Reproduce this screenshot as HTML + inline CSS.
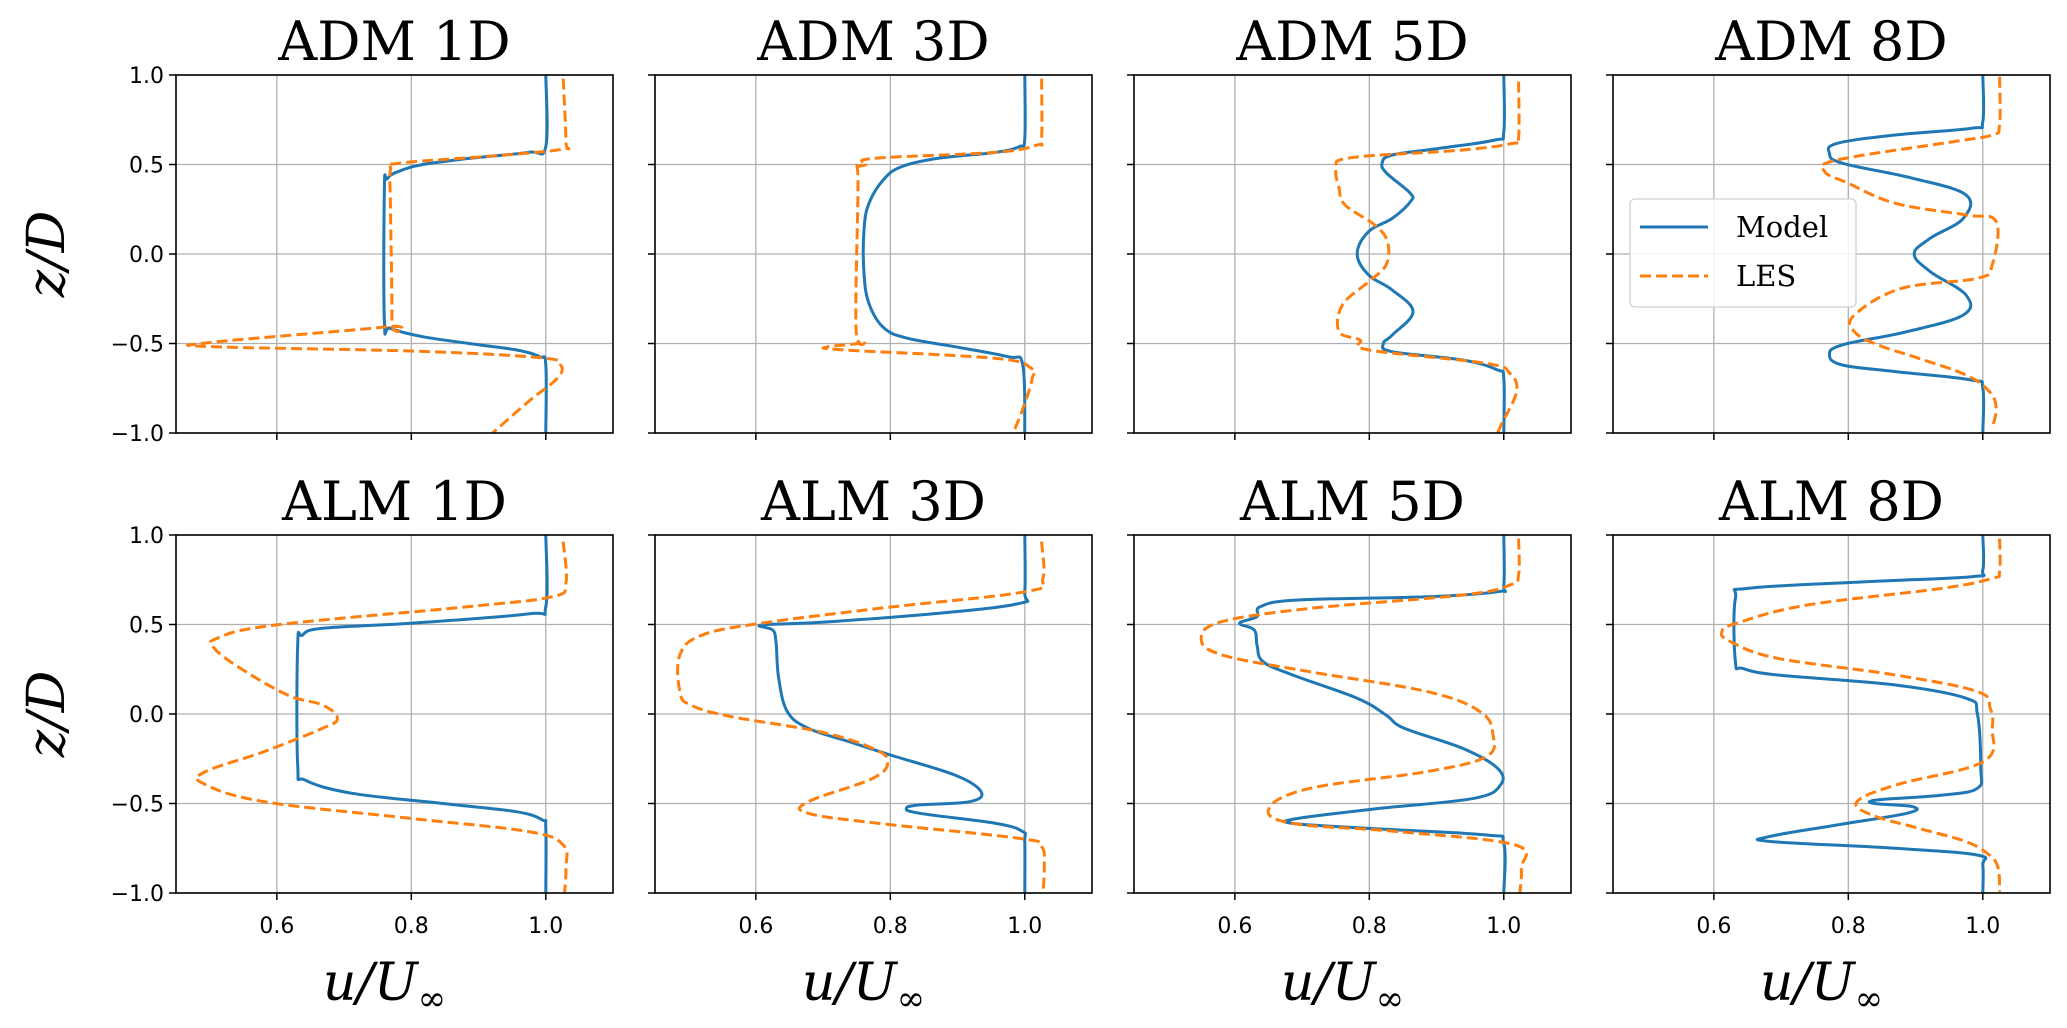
<!DOCTYPE html>
<html><head><meta charset="utf-8"><style>
html,body{margin:0;padding:0;background:#fff;}
svg{display:block;}
text{font-family:"DejaVu Sans","Liberation Sans",sans-serif;}
.title{font-family:"DejaVu Serif","Liberation Serif",serif;font-size:54px;}
.lab{font-family:"DejaVu Serif","Liberation Serif",serif;font-style:italic;font-size:52px;}
.tick{font-size:22px;fill:#000;}
.leg{font-family:"DejaVu Serif","Liberation Serif",serif;font-size:29px;}
</style></head><body>
<svg id="fig" width="2067" height="1028" viewBox="0 0 2067 1028" xmlns="http://www.w3.org/2000/svg"></svg>
<script>
const titles = ["ADM 1D","ADM 3D","ADM 5D","ADM 8D","ALM 1D","ALM 3D","ALM 5D","ALM 8D"];
const xTicks = [0.6,0.8,1.0];
const xTickLabels = ["0.6","0.8","1.0"];
const yTicks = [1.0,0.5,0.0,-0.5,-1.0];
const yTickLabels = ["1.0","0.5","0.0","\u22120.5","\u22121.0"];

const adm1ModelZ=[1,0.6,0.568,0.534,0.5,0.46,0.42,0.367,-0.378,-0.415,-0.462,-0.5,-0.536,-0.574,-0.62,-1];
const adm1ModelU=[1,1,0.974,0.886,0.817,0.78,0.764,0.76,0.76,0.769,0.817,0.886,0.956,0.991,1,1];
const adm1LesZ=[0.98,0.63,0.587,0.553,0.507,0.47,0.255,-0.378,-0.406,-0.494,-0.518,-0.542,-0.579,-0.62,-0.695,-0.825,-1];
const adm1LesU=[1.026,1.03,1.026,0.939,0.782,0.769,0.769,0.771,0.764,0.502,0.507,0.799,0.991,1.022,1.017,0.974,0.921];

const adm3ModelZ=[1,0.646,0.6,0.568,0.534,0.488,0.42,0.29,0.143,-0.117,-0.285,-0.415,-0.471,-0.518,-0.574,-0.62,-1];
const adm3ModelU=[1,1,0.992,0.957,0.87,0.817,0.791,0.769,0.761,0.761,0.769,0.791,0.826,0.896,0.975,0.997,1];
const adm3LesZ=[0.98,0.646,0.609,0.568,0.534,0.5,0.479,0.404,-0.415,-0.49,-0.518,-0.536,-0.583,-0.639,-0.695,-0.825,-1];
const adm3LesU=[1.025,1.025,1.018,0.957,0.774,0.765,0.748,0.752,0.749,0.761,0.708,0.73,0.957,1.01,1.011,1.001,0.983];

const adm5ModelZ=[1,0.683,0.637,0.59,0.553,0.507,0.451,0.339,0.292,0.199,0.125,0,-0.117,-0.201,-0.322,-0.453,-0.5,-0.546,-0.592,-0.648,-0.695,-1];
const adm5ModelU=[1,1,0.987,0.904,0.834,0.819,0.826,0.861,0.861,0.834,0.799,0.782,0.799,0.834,0.865,0.834,0.821,0.834,0.939,0.991,1,1];
const adm5LesZ=[0.963,0.646,0.618,0.581,0.538,0.479,0.367,0.274,0.162,0.069,-0.061,-0.155,-0.285,-0.434,-0.48,-0.536,-0.611,-0.667,-0.769,-0.955,-1];
const adm5LesU=[1.022,1.022,1.013,0.939,0.773,0.751,0.755,0.764,0.808,0.827,0.825,0.799,0.76,0.755,0.786,0.799,0.974,1.009,1.019,0.996,0.991];

const adm8ModelZ=[1,0.739,0.702,0.665,0.618,0.562,0.507,0.423,0.33,0.199,0.088,0,-0.099,-0.229,-0.341,-0.434,-0.508,-0.564,-0.62,-0.657,-0.704,-0.75,-1];
const adm8ModelU=[1,1,0.983,0.87,0.783,0.772,0.791,0.896,0.975,0.971,0.922,0.898,0.922,0.975,0.971,0.887,0.791,0.772,0.791,0.87,0.983,1,1];
const adm8LesZ=[0.99,0.721,0.665,0.628,0.525,0.46,0.395,0.283,0.218,0.181,-0.061,-0.136,-0.192,-0.341,-0.434,-0.508,-0.583,-0.676,-0.769,-0.862,-0.974];
const adm8LesU=[1.025,1.025,1.014,0.957,0.783,0.765,0.8,0.87,0.975,1.02,1.014,0.992,0.879,0.809,0.809,0.844,0.905,0.975,1.01,1.02,1.014];

const alm1ModelZ=[1,0.6,0.559,0.507,0.479,0.441,0.385,-0.285,-0.369,-0.443,-0.5,-0.546,-0.592,-0.639,-1];
const alm1ModelU=[1,1,0.974,0.799,0.668,0.638,0.631,0.631,0.642,0.712,0.847,0.956,0.995,1,1];
const alm1LesZ=[0.963,0.73,0.655,0.6,0.497,0.423,0.367,0.255,0.106,0.05,-0.024,-0.08,-0.21,-0.322,-0.387,-0.49,-0.583,-0.657,-0.732,-0.862,-1];
const alm1LesU=[1.026,1.03,1.009,0.886,0.598,0.511,0.507,0.546,0.616,0.668,0.69,0.668,0.581,0.494,0.49,0.581,0.799,0.974,1.026,1.03,1.028];

const alm3ModelZ=[1,0.683,0.618,0.562,0.512,0.497,0.469,0.404,0.199,0.013,-0.08,-0.155,-0.229,-0.341,-0.434,-0.49,-0.508,-0.527,-0.555,-0.611,-0.657,-0.713,-1];
const alm3ModelU=[1,1,0.992,0.87,0.695,0.608,0.625,0.63,0.634,0.647,0.678,0.739,0.8,0.896,0.935,0.918,0.844,0.824,0.844,0.957,0.997,1,1];
const alm3LesZ=[0.963,0.758,0.683,0.59,0.507,0.441,0.33,0.125,0.05,-0.015,-0.099,-0.192,-0.266,-0.359,-0.49,-0.555,-0.611,-0.695,-0.741,-0.862,-1];
const alm3LesU=[1.025,1.027,1.001,0.783,0.608,0.52,0.487,0.487,0.503,0.564,0.695,0.774,0.796,0.774,0.678,0.678,0.783,0.992,1.025,1.029,1.027];

const alm5ModelZ=[1,0.72,0.683,0.655,0.637,0.6,0.544,0.507,0.469,0.385,0.292,0.218,0.088,-0.006,-0.08,-0.192,-0.304,-0.397,-0.471,-0.527,-0.583,-0.611,-0.639,-0.676,-0.723,-1];
const alm5ModelU=[1,1,0.991,0.886,0.694,0.638,0.633,0.607,0.629,0.633,0.642,0.686,0.782,0.825,0.852,0.939,0.991,0.995,0.956,0.817,0.694,0.686,0.799,0.974,1,1];
const alm5LesZ=[0.98,0.777,0.72,0.665,0.59,0.516,0.423,0.33,0.236,0.125,0.013,-0.117,-0.238,-0.322,-0.415,-0.527,-0.611,-0.657,-0.732,-0.862,-1];
const alm5LesU=[1.022,1.022,1.009,0.939,0.712,0.581,0.55,0.581,0.712,0.886,0.965,0.984,0.974,0.886,0.712,0.651,0.686,0.843,1.017,1.026,1.024];

const alm8ModelZ=[1,0.804,0.767,0.739,0.702,0.646,0.292,0.255,0.218,0.162,0.088,0,-0.304,-0.415,-0.453,-0.48,-0.5,-0.518,-0.555,-0.62,-0.685,-0.713,-0.75,-0.788,-0.844,-1];
const alm8ModelU=[1,1,0.983,0.826,0.652,0.632,0.632,0.643,0.695,0.87,0.975,0.992,0.997,0.992,0.94,0.844,0.839,0.896,0.887,0.783,0.682,0.686,0.87,0.992,1,1];
const alm8LesZ=[0.98,0.795,0.758,0.702,0.609,0.507,0.46,0.404,0.311,0.218,0.125,0.032,-0.08,-0.266,-0.397,-0.49,-0.564,-0.639,-0.713,-0.788,-0.862,-0.993];
const alm8LesU=[1.025,1.025,1.014,0.94,0.739,0.634,0.612,0.625,0.695,0.87,0.992,1.011,1.014,1.001,0.87,0.813,0.835,0.905,0.975,1.01,1.023,1.025];

const modelU=[adm1ModelU,adm3ModelU,adm5ModelU,adm8ModelU,alm1ModelU,alm3ModelU,alm5ModelU,alm8ModelU];
const modelZ=[adm1ModelZ,adm3ModelZ,adm5ModelZ,adm8ModelZ,alm1ModelZ,alm3ModelZ,alm5ModelZ,alm8ModelZ];
const lesU=[adm1LesU,adm3LesU,adm5LesU,adm8LesU,alm1LesU,alm3LesU,alm5LesU,alm8LesU];
const lesZ=[adm1LesZ,adm3LesZ,adm5LesZ,adm8LesZ,alm1LesZ,alm3LesZ,alm5LesZ,alm8LesZ];

const NS="http://www.w3.org/2000/svg";
const svg=document.getElementById('fig');
const lefts=[176,655,1134,1613], tops=[75,535], W=437, H=358;
const XMIN=0.45, XMAX=1.1, YMIN=-1, YMAX=1;
function mk(tag,attrs,parent){const e=document.createElementNS(NS,tag);for(const k in attrs)e.setAttribute(k,attrs[k]);(parent||svg).appendChild(e);return e;}
function smooth(pts){
  let d='M'+pts[0][0].toFixed(1)+','+pts[0][1].toFixed(1);
  const t=0.18;
  for(let k=0;k<pts.length-1;k++){
    const p0=pts[Math.max(k-1,0)],p1=pts[k],p2=pts[k+1],p3=pts[Math.min(k+2,pts.length-1)];
    const c1=[p1[0]+(p2[0]-p0[0])*t,p1[1]+(p2[1]-p0[1])*t];
    const c2=[p2[0]-(p3[0]-p1[0])*t,p2[1]-(p3[1]-p1[1])*t];
    d+=' C'+c1[0].toFixed(1)+','+c1[1].toFixed(1)+' '+c2[0].toFixed(1)+','+c2[1].toFixed(1)+' '+p2[0].toFixed(1)+','+p2[1].toFixed(1);
  }
  return d;
}

for(let i=0;i<8;i++){
  const col=i%4,row=Math.floor(i/4);
  const L=lefts[col],T=tops[row];
  const sx=v=>L+(v-XMIN)/(XMAX-XMIN)*W;
  const sy=v=>T+(YMAX-v)/(YMAX-YMIN)*H;
  const g=mk('g',{});
  
  
  const clipId='c'+i;
  const cp=mk('clipPath',{id:clipId},g);mk('rect',{x:L,y:T,width:W,height:H},cp);
  xTicks.forEach(v=>{const l=mk('line',{x1:sx(v),x2:sx(v),y1:T,y2:T+H,stroke:'#b0b0b0','stroke-width':1.3},g);
    });
  yTicks.forEach(v=>{const l=mk('line',{x1:L,x2:L+W,y1:sy(v),y2:sy(v),stroke:'#b0b0b0','stroke-width':1.3},g);
    });
  const cg=mk('g',{'clip-path':'url(#'+clipId+')'},g);
  const mp=modelU[i].map((u,k)=>[sx(u),sy(modelZ[i][k])]);
  const lp=lesU[i].map((u,k)=>[sx(u),sy(lesZ[i][k])]);
  const ml=mk('path',{d:smooth(mp),fill:'none',stroke:'#1f77b4','stroke-width':3,'stroke-linejoin':'round'},cg);
  
  const ll=mk('path',{d:smooth(lp),fill:'none',stroke:'#ff7f0e','stroke-width':3,'stroke-dasharray':'11,5','stroke-linejoin':'round'},cg);
  
  const fr=mk('rect',{x:L,y:T,width:W,height:H,fill:'none',stroke:'#000','stroke-width':1.6},g);
  
  xTicks.forEach((v,k)=>{mk('line',{x1:sx(v),x2:sx(v),y1:T+H,y2:T+H+7,stroke:'#000','stroke-width':1.5},g);
    if(row===1){const t=mk('text',{x:sx(v),y:T+H+40,'text-anchor':'middle',class:'tick'},g);t.textContent=xTickLabels[k];
      }});
  yTicks.forEach((v,k)=>{mk('line',{x1:L-7,x2:L,y1:sy(v),y2:sy(v),stroke:'#000','stroke-width':1.5},g);
    if(col===0){const t=mk('text',{x:L-12,y:sy(v)+8,'text-anchor':'end',class:'tick'},g);t.textContent=yTickLabels[k];
      }});
  const tt=mk('text',{x:L+W/2,y:T-15,'text-anchor':'middle',class:'title'},g);tt.textContent=titles[i];
  
  if(col===0){
    const yl=mk('text',{x:0,y:0,'text-anchor':'middle',class:'lab',transform:'translate(64,'+(T+H/2)+') rotate(-90)'},g);
    yl.textContent='z/D';
    
  }
  if(row===1){
    const xl=mk('text',{x:L+W/2-10,y:1000,'text-anchor':'middle',class:'lab'},g);
    xl.textContent='u/U';
    const sub=mk('tspan',{dy:10,'font-size':'34px','font-style':'normal'},xl);sub.textContent='\u221e';
    
  }
}
const lg=mk('g',{});


mk('rect',{x:1630,y:199,width:226,height:108,rx:5,fill:'#fff','fill-opacity':0.85,stroke:'#d0d0d0','stroke-width':1.3},lg);
const e1=mk('g',{},lg);


mk('line',{x1:1640,x2:1708,y1:227,y2:227,stroke:'#1f77b4','stroke-width':3},e1);
const t1=mk('text',{x:1736,y:237,class:'leg'},e1);t1.textContent='Model';
const e2=mk('g',{},lg);


mk('line',{x1:1640,x2:1708,y1:276,y2:276,stroke:'#ff7f0e','stroke-width':3,'stroke-dasharray':'11,5'},e2);
const t2=mk('text',{x:1736,y:286,class:'leg'},e2);t2.textContent='LES';
</script>
</body></html>
